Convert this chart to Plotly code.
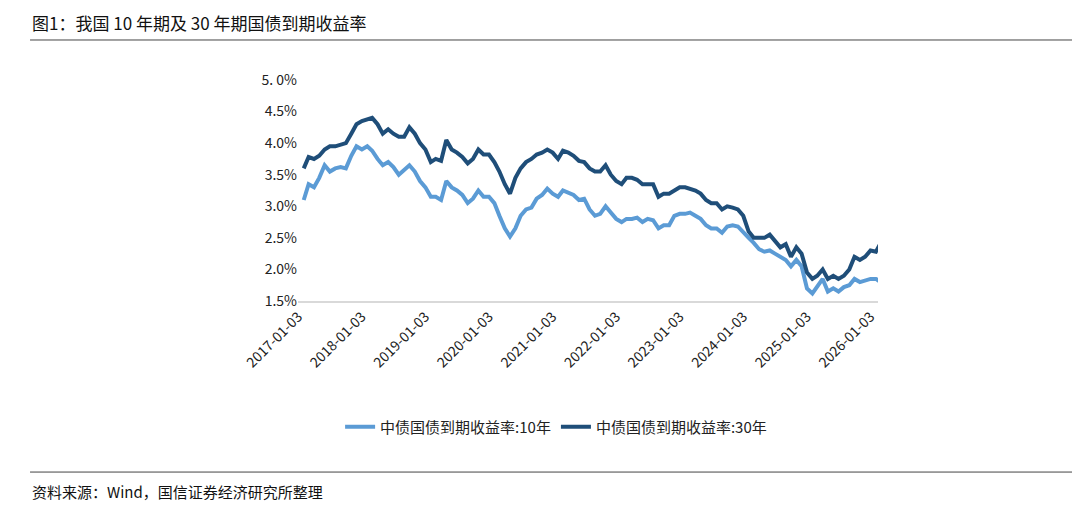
import pandas as pd
import plotly.graph_objects as go

dates = pd.date_range("2017-01-03", periods=110, freq="MS") + pd.Timedelta(days=2)

y10 = [3.10, 3.35, 3.30, 3.45, 3.65, 3.55, 3.60, 3.62, 3.60, 3.80, 3.95, 3.90,
       3.95, 3.88, 3.75, 3.65, 3.70, 3.62, 3.50, 3.58, 3.65, 3.55, 3.40, 3.30,
       3.15, 3.15, 3.10, 3.40, 3.30, 3.25, 3.18, 3.05, 3.12, 3.25, 3.15, 3.15,
       3.05, 2.85, 2.65, 2.52, 2.65, 2.85, 2.95, 2.98, 3.12, 3.18, 3.28, 3.20,
       3.15, 3.25, 3.22, 3.18, 3.10, 3.12, 2.95, 2.85, 2.88, 3.00, 2.90, 2.80,
       2.75, 2.80, 2.80, 2.82, 2.75, 2.80, 2.78, 2.65, 2.70, 2.70, 2.85, 2.88,
       2.88, 2.90, 2.85, 2.80, 2.70, 2.65, 2.65, 2.58, 2.68, 2.70, 2.68, 2.60,
       2.50, 2.42, 2.32, 2.28, 2.30, 2.25, 2.20, 2.15, 2.05, 2.15, 2.05, 1.70,
       1.62, 1.72, 1.85, 1.65, 1.70, 1.65, 1.72, 1.75, 1.85, 1.80, 1.82, 1.85,
       1.85, 1.80]

y30 = [3.60, 3.78, 3.75, 3.80, 3.90, 3.95, 3.95, 3.98, 4.00, 4.15, 4.30, 4.35,
       4.38, 4.40, 4.30, 4.15, 4.22, 4.15, 4.10, 4.10, 4.25, 4.15, 4.00, 3.90,
       3.70, 3.75, 3.72, 4.05, 3.90, 3.85, 3.78, 3.68, 3.75, 3.90, 3.82, 3.82,
       3.70, 3.55, 3.35, 3.20, 3.45, 3.60, 3.70, 3.75, 3.82, 3.85, 3.90, 3.85,
       3.75, 3.88, 3.85, 3.80, 3.72, 3.70, 3.60, 3.55, 3.55, 3.65, 3.50, 3.40,
       3.35, 3.45, 3.45, 3.42, 3.35, 3.35, 3.35, 3.15, 3.20, 3.20, 3.25, 3.30,
       3.30, 3.28, 3.25, 3.20, 3.10, 3.05, 3.05, 2.95, 3.00, 2.98, 2.95, 2.85,
       2.60, 2.50, 2.50, 2.50, 2.55, 2.45, 2.35, 2.40, 2.20, 2.35, 2.25, 1.95,
       1.85, 1.90, 2.00, 1.85, 1.90, 1.85, 1.90, 2.00, 2.20, 2.15, 2.20, 2.30,
       2.28, 2.42]

xticks = [f"{y}-01-03" for y in range(2017, 2027)]
yticks = [1.5, 2.0, 2.5, 3.0, 3.5, 4.0, 4.5, 5.0]
ylabels = ["1.5%", "2.0%", "2.5%", "3.0%", "3.5%", "4.0%", "4.5%", "5. 0%"]

font = "Noto Sans CJK SC"
fig = go.Figure()
fig.add_trace(go.Scatter(x=dates, y=y10, mode="lines", name="中债国债到期收益率:10年",
                         line=dict(color="#5B9BD5", width=4)))
fig.add_trace(go.Scatter(x=dates, y=y30, mode="lines", name="中债国债到期收益率:30年",
                         line=dict(color="#1F4E79", width=4)))

fig.update_layout(
    width=1080, height=506, plot_bgcolor="white", paper_bgcolor="white",
    margin=dict(l=290, r=210, t=72, b=213),
    font=dict(family=font, size=14, color="#222"),
    legend=dict(orientation="h", x=0.445, xanchor="center", y=-0.57, yanchor="middle",
                font=dict(size=15)),
    xaxis=dict(tickvals=xticks, ticktext=xticks, tickangle=-45, showgrid=False,
               showline=True, linecolor="#d9d9d9", linewidth=2,
               range=["2017-01-01", "2026-02-15"], tickfont=dict(size=14)),
    yaxis=dict(range=[1.5, 5.0], tickvals=yticks, ticktext=ylabels, showgrid=False,
               zeroline=False, tickfont=dict(size=14)),
)
fig.add_annotation(text="图1：我国 10 年期及 30 年期国债到期收益率", xref="paper", yref="paper",
                   x=-0.462, y=1.262, xanchor="left", yanchor="middle", showarrow=False,
                   font=dict(size=17, color="#111"))
fig.add_annotation(text="资料来源：Wind，国信证券经济研究所整理", xref="paper", yref="paper",
                   x=-0.462, y=-0.864, xanchor="left", yanchor="middle", showarrow=False,
                   font=dict(size=15, color="#111"))
for yy in (1.181, -0.774):
    fig.add_shape(type="line", xref="paper", yref="paper", x0=-0.462, x1=1.341,
                  y0=yy, y1=yy, line=dict(color="#444", width=1))

fig.write_html("out.html")
